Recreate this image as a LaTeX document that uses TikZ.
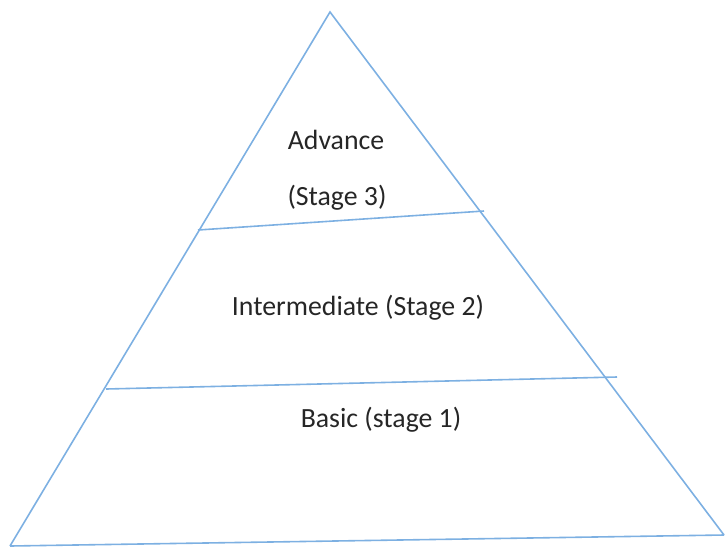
\documentclass[tikz,border=0pt]{standalone}
\usepackage{fontspec}
\setmainfont{Carlito}
\definecolor{edge}{RGB}{125,176,226}
\begin{document}
\begin{tikzpicture}[x=1pt,y=-1pt,
  tier/.style={draw=edge,line width=1.6pt},
  label/.style={font=\fontsize{27.8}{32}\selectfont,text=black!85,inner sep=0pt}]
\useasboundingbox (0,0) rectangle (725,547);
% outline of the pyramid
\coordinate (apex) at (330,12);
\coordinate (bl) at (10,546);
\coordinate (br) at (724,535);
\draw[tier] (bl) -- (apex) -- (br);
\draw[tier] (bl) -- (br);
% dividing lines between the stages
\coordinate (u1) at (198,230);
\coordinate (u2) at (484,211);
\coordinate (l1) at (106,389);
\coordinate (l2) at (617,377);
\draw[tier] (u1) -- (u2);
\draw[tier] (l1) -- (l2);
% stage labels
\node[label] (adv) at (336,140) {Advance};
\node[label] (s3) at (337,198) {(Stage 3)};
\node[label] (mid) at (358,308) {Intermediate (Stage 2)};
\node[label] (basic) at (381,420) {Basic (stage 1)};
\end{tikzpicture}
\end{document}
